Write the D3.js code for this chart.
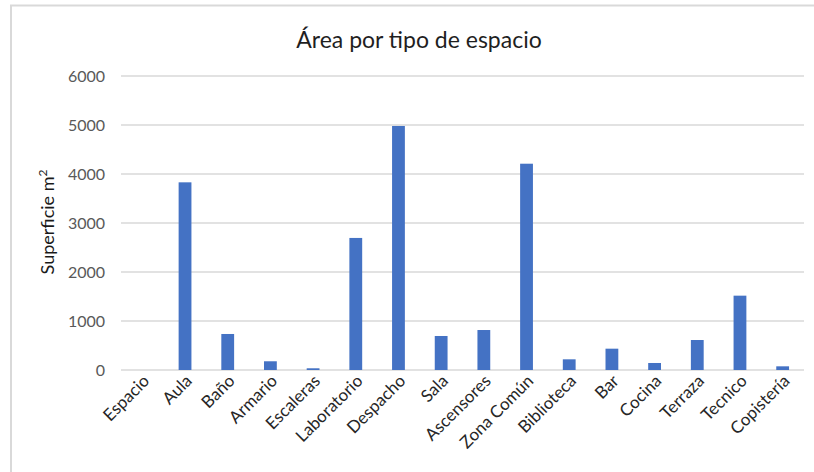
<!DOCTYPE html>
<html>
<head>
<meta charset="utf-8">
<script src="https://cdn.jsdelivr.net/npm/d3@7"></script>
<style>
  html, body { margin: 0; padding: 0; background: #fff; }
  svg { display: block; font-family: Lato, "Open Sans", "Liberation Sans", sans-serif; }
</style>
</head>
<body>
<svg id="chart" width="814" height="472"></svg>
<script>
// Superficie (m²) por tipo de espacio
const categories = ["Espacio", "Aula", "Baño", "Armario", "Escaleras", "Laboratorio", "Despacho", "Sala",
  "Ascensores", "Zona Común", "Biblioteca", "Bar", "Cocina", "Terraza", "Tecnico", "Copistería"];
const areas = [0, 3830, 735, 178, 35, 2695, 4980, 694, 816, 4210, 218, 435, 143, 612, 1517, 75];
const yTicks = [0, 1000, 2000, 3000, 4000, 5000, 6000];

const svg = d3.select("#chart");
const W = 814, H = 472;
const plot = { left: 121, right: 804, top: 76, bottom: 370 };

// chart area border (top and left edges)
svg.append("path")
  .attr("d", `M11,${H} L11,5.5 L${W},5.5`)
  .attr("fill", "none").attr("stroke", "#d9d9d9").attr("stroke-width", 2);

const x = d3.scaleBand()
  .domain(categories)
  .range([plot.left, plot.right])
  .paddingInner(0.7)
  .paddingOuter(0.35);

const y = d3.scaleLinear()
  .domain([0, 6000])
  .range([plot.bottom, plot.top]);

// gridlines
svg.append("g")
  .selectAll("line")
  .data(yTicks)
  .join("line")
  .attr("x1", plot.left).attr("x2", plot.right)
  .attr("y1", d => y(d)).attr("y2", d => y(d))
  .attr("stroke", "#d9d9d9").attr("stroke-width", 1.5);

// y axis labels
const yAxis = d3.axisLeft(y).tickValues(yTicks).tickFormat(d3.format("d")).tickSize(0).tickPadding(16);
const gy = svg.append("g").attr("transform", `translate(${plot.left},0)`).call(yAxis);
gy.select(".domain").remove();
gy.selectAll("text")
  .attr("font-family", "Lato, 'Open Sans', sans-serif")
  .attr("font-size", 16).attr("fill", "#595959");

// bars
svg.append("g")
  .selectAll("rect")
  .data(categories.map((c, i) => ({ c, v: areas[i] })))
  .join("rect")
  .attr("x", d => x(d.c))
  .attr("width", x.bandwidth())
  .attr("y", d => y(d.v))
  .attr("height", d => y(0) - y(d.v))
  .attr("fill", "#4472c4");

// x axis labels, rotated
const xAxis = d3.axisBottom(x).tickSize(0).tickPadding(0);
const gx = svg.append("g").attr("transform", `translate(0,${plot.bottom})`).call(xAxis);
gx.select(".domain").remove();
gx.selectAll("text")
  .attr("font-family", "Lato, 'Open Sans', sans-serif")
  .attr("font-size", 17).attr("fill", "#262626")
  .attr("text-anchor", "end")
  .attr("dy", "0")
  .attr("transform", "translate(8,12) rotate(-45)");

// title
svg.append("text")
  .attr("x", 419).attr("y", 48)
  .attr("text-anchor", "middle")
  .attr("font-size", 23).attr("fill", "#1f1f1f")
  .text("Área por tipo de espacio");

// y axis title
const yt = svg.append("text")
  .attr("transform", `translate(54,${222}) rotate(-90)`)
  .attr("text-anchor", "middle")
  .attr("font-size", 18).attr("fill", "#1a1a1a");
yt.append("tspan").text("Superficie m");
yt.append("tspan").attr("dy", -7).attr("font-size", 12).text("2");
</script>
</body>
</html>
